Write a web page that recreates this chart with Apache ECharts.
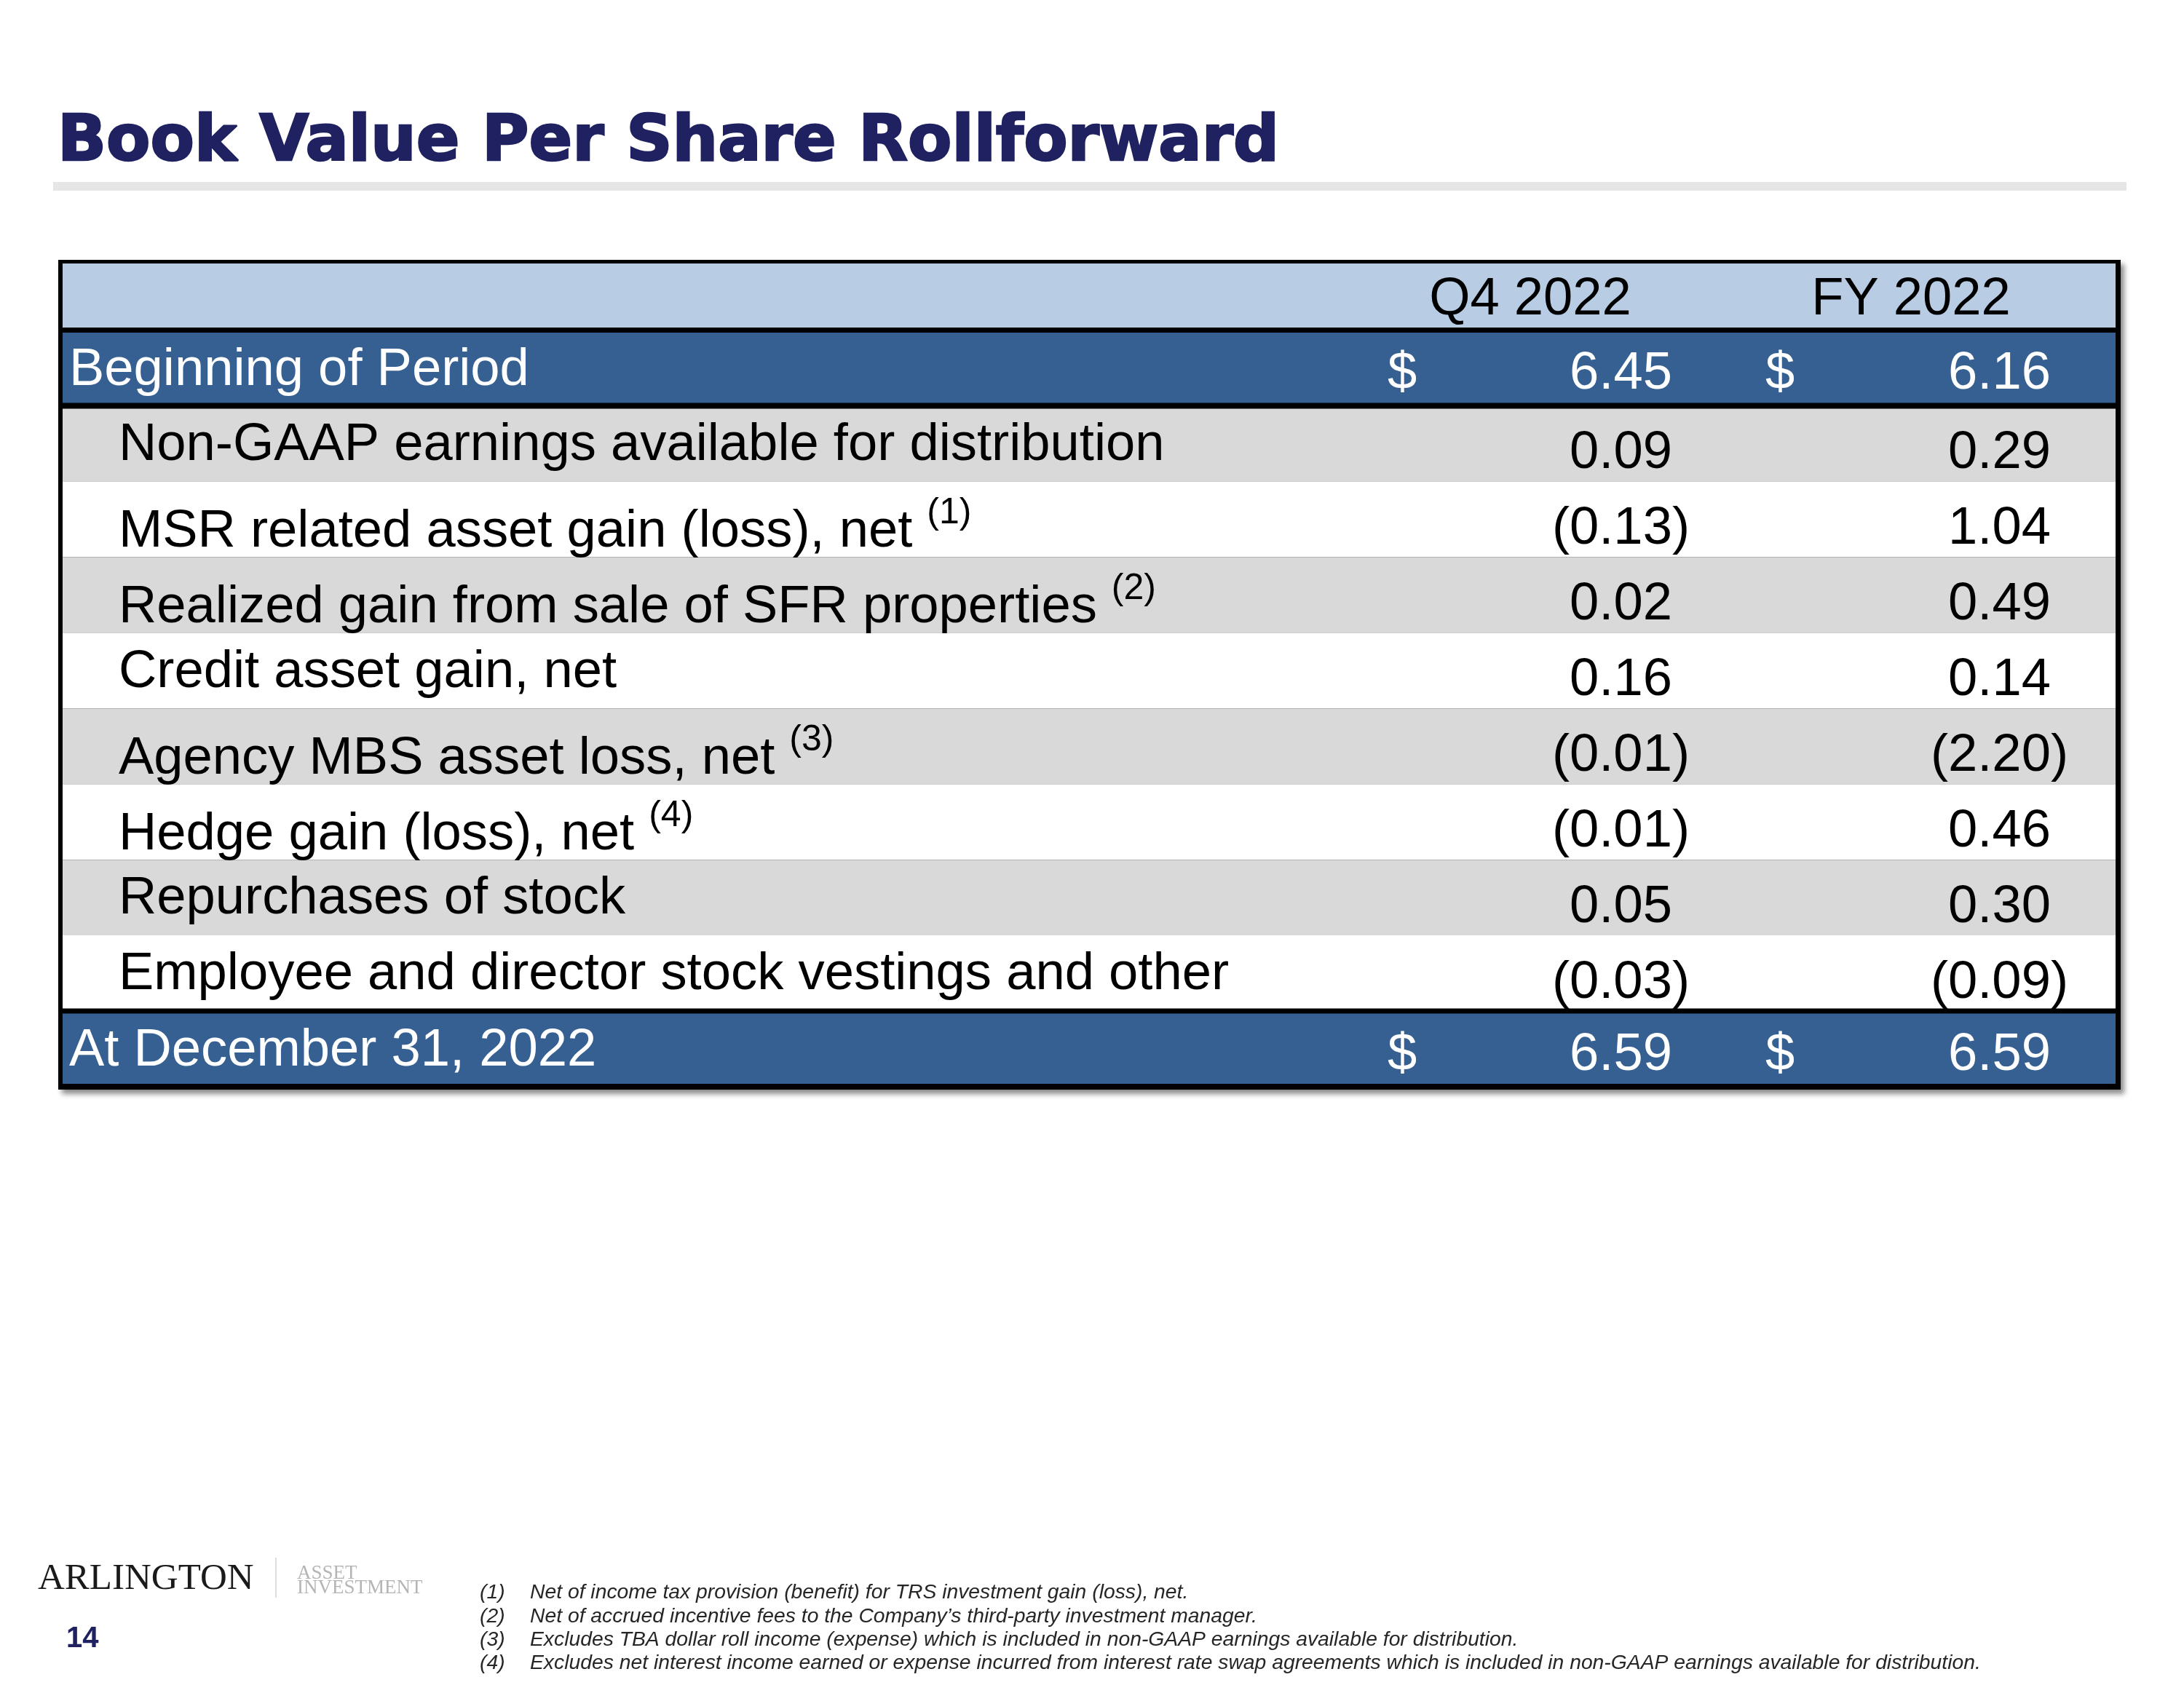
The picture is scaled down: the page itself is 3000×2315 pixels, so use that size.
<!DOCTYPE html>
<html>
<head>
<meta charset="utf-8">
<script src="https://cdn.jsdelivr.net/npm/echarts/dist/echarts.min.js"></script>
<style>
  html, body { margin: 0; padding: 0; background: #ffffff; }
  #chart { width: 3000px; height: 2315px; }
</style>
</head>
<body>
<div id="chart"></div>
<script>
// ---------------- DATA ----------------
const pageTitle = 'Book Value Per Share Rollforward';
const columnHeaders = ['Q4 2022', 'FY 2022'];
const rowLabels = [
  'Beginning of Period',
  'Non-GAAP earnings available for distribution',
  'MSR related asset gain (loss), net',
  'Realized gain from sale of SFR properties',
  'Credit asset gain, net',
  'Agency MBS asset loss, net',
  'Hedge gain (loss), net',
  'Repurchases of stock',
  'Employee and director stock vestings and other',
  'At December 31, 2022'
];
const footnoteRefs = ['', '', '(1)', '(2)', '', '(3)', '(4)', '', '', ''];
const q4Values = [6.45, 0.09, -0.13, 0.02, 0.16, -0.01, -0.01, 0.05, -0.03, 6.59];
const fyValues = [6.16, 0.29, 1.04, 0.49, 0.14, -2.20, 0.46, 0.30, -0.09, 6.59];
const footnoteNumbers = ['(1)', '(2)', '(3)', '(4)'];
const footnoteTexts = [
  'Net of income tax provision (benefit) for TRS investment gain (loss), net.',
  'Net of accrued incentive fees to the Company\u2019s third-party investment manager.',
  'Excludes TBA dollar roll income (expense) which is included in non-GAAP earnings available for distribution.',
  'Excludes net interest income earned or expense incurred from interest rate swap agreements which is included in non-GAAP earnings available for distribution.'
];
const logoMain = 'ARLINGTON';
const logoSub = ['ASSET', 'INVESTMENT'];
const pageNumber = '14';

// ---------------- STYLE / LAYOUT ----------------
const SANS = '"Liberation Sans", Arial, sans-serif';
const SERIF = '"Liberation Serif", "Times New Roman", serif';
const NAVY = '#1F2160';
const HEADER_BG = '#B8CCE4';
const TOTAL_BG = '#366092';
const GRAY_BG = '#D9D9D9';
const FS = 72.4;        // table font size
const MID = 0.25;       // baseline offset below the text's vertical middle, in em
const PAREN = 24;       // width of a closing parenthesis at FS

const mctx = document.createElement('canvas').getContext('2d');
function measure(text, font) { mctx.font = font; return mctx.measureText(text).width; }

function fmt(v) {
  const s = Math.abs(v).toFixed(2);
  return v < 0 ? '(' + s + ')' : s;
}

function txt(x, baseline, text, opts) {
  const size = opts.size || FS;
  return {
    type: 'text',
    x: x,
    y: baseline - MID * size,
    z2: 10,
    style: {
      text: text,
      fill: opts.fill || '#000',
      fontSize: size,
      fontFamily: opts.family || SANS,
      fontWeight: opts.weight || 'normal',
      fontStyle: opts.style || 'normal',
      align: opts.align || 'left',
      verticalAlign: 'middle'
    }
  };
}

const categories = ['header'].concat(rowLabels);
const nBody = rowLabels.length;

function renderItem(params, api) {
  const idx = api.value(1);
  const cs = params.coordSys;
  const cy = api.coord([0, idx])[1];
  const band = api.size([0, 1])[1];
  const top = cy - band / 2, bot = cy + band / 2;
  const L = cs.x, W = cs.width;
  const inL = L + 6, inW = W - 13;
  const colDollar = [L + 1826, L + 2345];
  const colRight = [L + 2241, L + 2761];
  const colHead = [L + 2022, L + 2545];
  const children = [];

  if (idx === 0) {
    const lastCy = api.coord([0, nBody])[1];
    const fTop = top + 7.5;
    const fBot = lastCy + band / 2 + 4;
    children.push({
      type: 'rect', z2: 0,
      shape: { x: L, y: fTop, width: W, height: fBot - fTop },
      style: { fill: '#000', shadowBlur: 7, shadowOffsetX: 5, shadowOffsetY: 6, shadowColor: 'rgba(0,0,0,0.45)' }
    });
    const hTop = top + 12.5, hBot = bot - 3.5;
    children.push({
      type: 'rect', z2: 3,
      shape: { x: inL, y: hTop, width: inW, height: hBot - hTop },
      style: { fill: HEADER_BG }
    });
    columnHeaders.forEach(function (h, k) {
      children.push(txt(colHead[k], hBot - 20, h, { align: 'center' }));
    });
    return { type: 'group', children: children };
  }

  const r = idx - 1;
  const isTotal = (r === 0 || r === nBody - 1);
  if (isTotal) {
    children.push({
      type: 'rect', z2: 2,
      shape: { x: L, y: top - 3.5, width: W, height: band + 7.5 },
      style: { fill: '#000' }
    });
    const fTop = top + 3.5, fBot = bot - 4;
    children.push({
      type: 'rect', z2: 3,
      shape: { x: inL, y: fTop, width: inW, height: fBot - fTop },
      style: { fill: TOTAL_BG }
    });
    children.push(txt(L + 15, fBot - 26.5, rowLabels[r], { fill: '#fff' }));
    [q4Values[r], fyValues[r]].forEach(function (v, k) {
      children.push(txt(colDollar[k], fBot - 21, '$', { fill: '#fff' }));
      children.push(txt(v < 0 ? colRight[k] : colRight[k] - PAREN, fBot - 21, fmt(v), { fill: '#fff', align: 'right' }));
    });
  } else {
    children.push({
      type: 'rect', z2: 1,
      shape: { x: inL, y: top, width: inW, height: band },
      style: { fill: (r % 2 === 1) ? GRAY_BG : '#ffffff' }
    });
    const hasRef = footnoteRefs[r] !== '';
    const lb = bot - (hasRef ? 16.5 : 31.5);
    const lx = L + 83;
    children.push(txt(lx, lb, rowLabels[r], {}));
    if (hasRef) {
      const w = measure(rowLabels[r], FS + 'px ' + SANS);
      children.push(txt(lx + w + 20, lb - 31, footnoteRefs[r], { size: 50 }));
    }
    [q4Values[r], fyValues[r]].forEach(function (v, k) {
      children.push(txt(v < 0 ? colRight[k] : colRight[k] - PAREN, bot - 20, fmt(v), { align: 'right' }));
    });
  }
  return { type: 'group', children: children };
}

const seriesData = categories.map(function (c, i) { return [0, i]; });

// page decorations (text kept as real text)
const graphics = [
  { type: 'text', x: 79, y: 219 - MID * 88,
    style: { text: pageTitle, fill: NAVY, stroke: NAVY, lineWidth: 2.5, fontSize: 88, fontWeight: 'bold', fontFamily: '"DejaVu Sans", sans-serif', verticalAlign: 'middle' } },
  { type: 'rect', shape: { x: 73, y: 250, width: 2848, height: 12 }, style: { fill: '#E6E6E6' } },
  { type: 'text', x: 52, y: 2182 - MID * 51,
    style: { text: logoMain, fill: '#1a1a1a', fontSize: 51, fontFamily: SERIF, verticalAlign: 'middle' } },
  { type: 'line', shape: { x1: 379, y1: 2140, x2: 379, y2: 2195 }, style: { stroke: '#DDDDDD', lineWidth: 2 } },
  { type: 'text', x: 408, y: 2169 - MID * 27,
    style: { text: logoSub[0], fill: '#B5B5B5', fontSize: 27, fontFamily: SERIF, verticalAlign: 'middle' } },
  { type: 'text', x: 408, y: 2189 - MID * 27,
    style: { text: logoSub[1], fill: '#B5B5B5', fontSize: 27, fontFamily: SERIF, verticalAlign: 'middle' } },
  { type: 'text', x: 91, y: 2262 - MID * 40,
    style: { text: pageNumber, fill: NAVY, fontSize: 40, fontWeight: 'bold', fontFamily: SANS, verticalAlign: 'middle' } }
];
const fnBase = [2195, 2228, 2260, 2292];
footnoteTexts.forEach(function (t, i) {
  graphics.push({ type: 'text', x: 659, y: fnBase[i] - MID * 28.3,
    style: { text: footnoteNumbers[i], fill: '#262626', fontSize: 28.3, fontStyle: 'italic', fontFamily: SANS, verticalAlign: 'middle' } });
  graphics.push({ type: 'text', x: 728, y: fnBase[i] - MID * 28.3,
    style: { text: t, fill: '#262626', fontSize: 28.3, fontStyle: 'italic', fontFamily: SANS, verticalAlign: 'middle' } });
});

const chart = echarts.init(document.getElementById('chart'), null, { renderer: 'canvas' });
chart.setOption({
  backgroundColor: '#ffffff',
  animation: false,
  grid: { left: 80, right: 87, top: 349.5, bottom: 822, containLabel: false },
  xAxis: { type: 'value', min: 0, max: 1, show: false },
  yAxis: { type: 'category', data: categories, inverse: true, show: false },
  series: [{
    type: 'custom',
    renderItem: renderItem,
    data: seriesData,
    encode: { x: 0, y: 1 },
    clip: false
  }],
  graphic: graphics
});
</script>
</body>
</html>
